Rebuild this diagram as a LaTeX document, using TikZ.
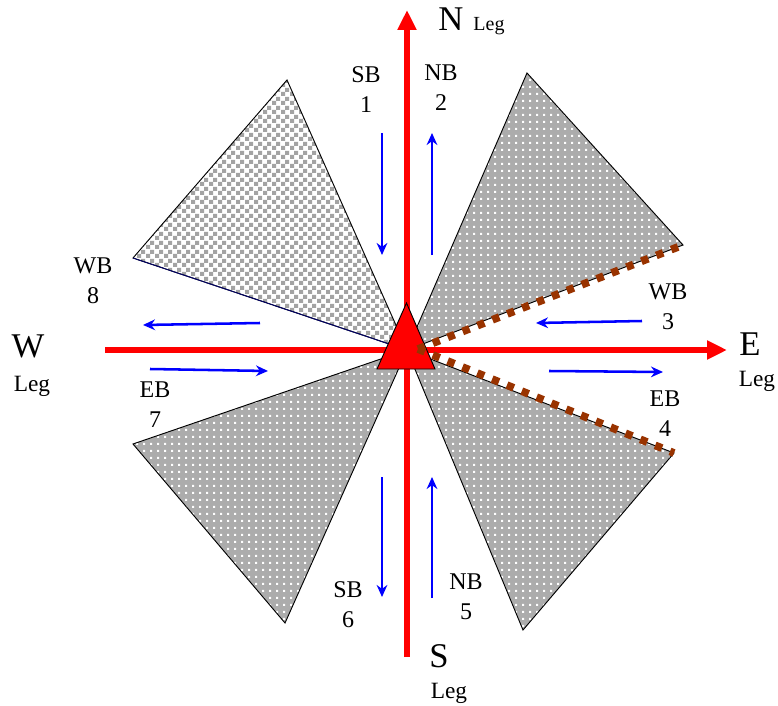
\documentclass[tikz,border=0pt]{standalone}
\usepackage{fontspec}
\setmainfont{Liberation Serif}
\usetikzlibrary{arrows.meta,patterns.meta,positioning}

\definecolor{rust}{RGB}{153,51,0}

\tikzdeclarepattern{
  name=wdots,
  type=uncolored,
  bottom left={(0pt,0pt)},
  top right={(5.4pt,5.4pt)},
  tile size={(5.4pt,5.4pt)},
  code={\pgfpathrectangle{\pgfpointorigin}{\pgfqpoint{1.8pt}{1.8pt}}\pgfusepath{fill}}
}
\tikzdeclarepattern{
  name=chequer,
  type=uncolored,
  bottom left={(0pt,0pt)},
  top right={(6.4pt,6.4pt)},
  tile size={(6.4pt,6.4pt)},
  code={\pgfpathrectangle{\pgfpointorigin}{\pgfqpoint{3.2pt}{3.2pt}}\pgfpathrectangle{\pgfqpoint{3.2pt}{3.2pt}}{\pgfqpoint{3.2pt}{3.2pt}}\pgfusepath{fill}}
}

\begin{document}
\begin{tikzpicture}[
    x=0.75pt, y=-0.75pt,
    wedge/.style={preaction={fill=gray!65}, pattern=wdots, pattern color=white, draw=black, line width=0.7pt},
    checkwedge/.style={preaction={fill=white}, pattern=chequer, pattern color=gray!72, draw=black, line width=0.7pt},
    legline/.style={draw=red, line width=4.5pt, -{Triangle[length=15pt,width=13.5pt]}},
    flow/.style={draw=blue, line width=1.9pt, -{Stealth[length=9pt,width=8pt]}},
    dotline/.style={draw=rust, line width=5.8pt, dash pattern=on 5.5pt off 6.5pt},
    movelabel/.style={font=\fontsize{18}{22.5}\selectfont, align=center, inner sep=0pt},
    dirlabel/.style={font=\fontsize{26}{30}\selectfont, anchor=base, inner sep=0pt},
    leglabel/.style={font=\fontsize{17.5}{20}\selectfont, anchor=base, inner sep=0pt}
]
\useasboundingbox (0,0) rectangle (778,706);

% Centre and wedge corners
\coordinate (c) at (407,350);
\coordinate (nw1) at (287,80);
\coordinate (nw2) at (133,258);
\coordinate (ne1) at (527,73);
\coordinate (ne2) at (683,245);
\coordinate (se1) at (674,453);
\coordinate (se2) at (523,630);
\coordinate (sw1) at (285,623);
\coordinate (sw2) at (133,444);

% Wedges
\draw[checkwedge] (c) -- (nw1) -- (nw2) -- cycle;
\draw[blue!40!black, line width=0.7pt] (nw2) -- (c);
\draw[wedge] (c) -- (ne1) -- (ne2) -- cycle;
\draw[wedge] (c) -- (se1) -- (se2) -- cycle;
\draw[wedge] (c) -- (sw1) -- (sw2) -- cycle;

% Legs
\coordinate (s_end) at (407,657);
\coordinate (n_end) at (407,10);
\coordinate (w_end) at (105,350);
\coordinate (e_end) at (727,350);
\draw[legline] (s_end) -- (n_end);
\draw[legline] (w_end) -- (e_end);

% Marker
\coordinate (t1) at (406.5,303);
\coordinate (t2) at (377,369);
\coordinate (t3) at (435,369);
\draw[fill=red, line width=0.7pt] (t1) -- (t2) -- (t3) -- cycle;

% Dotted edges
\coordinate (d0) at (418,349);
\draw[dotline] (d0) -- (ne2);
\draw[dotline] (d0) -- (se1);

% Movements
\coordinate (sb1a) at (382,133);
\coordinate (sb1b) at (382,255);
\coordinate (nb2a) at (432,255);
\coordinate (nb2b) at (432,133);
\coordinate (wb3a) at (642,321);
\coordinate (wb3b) at (536,323);
\coordinate (eb4a) at (549,371);
\coordinate (eb4b) at (663,372);
\coordinate (nb5a) at (432,598);
\coordinate (nb5b) at (432,477);
\coordinate (sb6a) at (382,477);
\coordinate (sb6b) at (382,597);
\coordinate (eb7a) at (150,369);
\coordinate (eb7b) at (268,371);
\coordinate (wb8a) at (260,323);
\coordinate (wb8b) at (143,325);
\draw[flow] (sb1a) -- (sb1b);
\draw[flow] (nb2a) -- (nb2b);
\draw[flow] (wb3a) -- (wb3b);
\draw[flow] (eb4a) -- (eb4b);
\draw[flow] (nb5a) -- (nb5b);
\draw[flow] (sb6a) -- (sb6b);
\draw[flow] (eb7a) -- (eb7b);
\draw[flow] (wb8a) -- (wb8b);

% Movement labels
\node[movelabel] (lab1) at (366,90) {SB\\1};
\node[movelabel] (lab2) at (441,88) {NB\\2};
\node[movelabel] (lab3) at (668,307) {WB\\3};
\node[movelabel] (lab4) at (665,414) {EB\\4};
\node[movelabel] (lab5) at (466,597) {NB\\5};
\node[movelabel] (lab6) at (348,605) {SB\\6};
\node[movelabel] (lab7) at (155,405) {EB\\7};
\node[movelabel] (lab8) at (93,281) {WB\\8};

% Leg names
\node[dirlabel] (north) at (451,31) {N};
\node[leglabel, font=\fontsize{15}{17}\selectfont] (northleg) at (489,31) {Leg};
\node[dirlabel] (east) at (750,355) {E};
\node[leglabel] (eastleg) at (757,386) {Leg};
\node[dirlabel] (west) at (28,357) {W};
\node[leglabel] (westleg) at (32,391) {Leg};
\node[dirlabel] (south) at (439,667) {S};
\node[leglabel] (southleg) at (449,698) {Leg};

\end{tikzpicture}
\end{document}
